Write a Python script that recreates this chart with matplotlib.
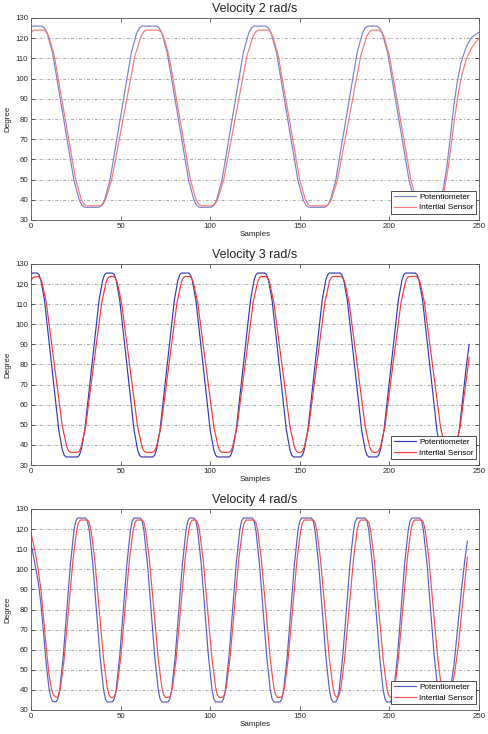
import matplotlib
matplotlib.use('Agg')
import matplotlib.pyplot as plt

plt.rcParams['font.family'] = ['Liberation Sans', 'DejaVu Sans']

titles = ['Velocity 2 rad/s', 'Velocity 3 rad/s', 'Velocity 4 rad/s']
series_labels = ['Potentiometer', 'Intertial Sensor']
x_ticks = [0, 50, 100, 150, 200, 250]
y_ticks = [30, 40, 50, 60, 70, 80, 90, 100, 110, 120, 130]

# ---------------- Velocity 2 rad/s ----------------
pot_v2_x = [0,
            6, 7.5, 9, 12, 18, 24, 27, 28.5, 30,
            38, 39.5, 41, 44, 50, 56, 59, 60.5, 62,
            70, 71.5, 73, 76, 82, 88, 91, 92.5, 94,
            100.5, 102, 103.5, 106.5, 112.5, 118.5, 121.5, 123, 124.5,
            131, 132.5, 134, 137, 143, 149, 152, 153.5, 155,
            164, 165.5, 167, 170, 176, 182, 185, 186.5, 188,
            193, 194.5, 196, 199, 205, 211, 214, 215.5, 217,
            226, 228, 230, 232, 234, 236, 238, 240, 243, 246, 250]
pot_v2_y = [126,
            126, 125.1, 122.6, 112.9, 81.2, 49.4, 39.7, 37.2, 36.3,
            36.3, 37.2, 39.7, 49.4, 81.2, 112.9, 122.6, 125.1, 126,
            126, 125.1, 122.6, 112.9, 81.2, 49.4, 39.7, 37.2, 36.3,
            36.3, 37.2, 39.7, 49.4, 81.2, 112.9, 122.6, 125.1, 126,
            126, 125.1, 122.6, 112.9, 81.2, 49.4, 39.7, 37.2, 36.3,
            36.3, 37.2, 39.7, 49.4, 81.2, 112.9, 122.6, 125.1, 126,
            126, 125.1, 122.6, 112.9, 81.2, 49.4, 39.7, 37.2, 36.3,
            36.3, 38.5, 45, 56, 71, 87, 99, 108, 116, 120.5, 123]
ins_v2_x = [0, 1.5,
            7, 8.5, 10, 13, 19, 25, 28, 29.5, 31,
            38.5, 40, 41.5, 45, 51.5, 58, 61.5, 63, 64.5,
            71, 72.5, 74, 77, 83, 89, 92, 93.5, 95,
            101, 102.5, 104, 107.5, 114, 120.5, 124, 125.5, 127,
            132, 133.5, 135, 138, 144, 150, 153, 154.5, 156,
            164.5, 166, 167.5, 171, 177.5, 184, 187.5, 189, 190.5,
            194, 195.5, 197, 200, 206, 212, 215, 216.5, 218,
            226.5, 228.5, 230.5, 232.5, 234.5, 236.5, 238.5, 240.5, 243, 246, 250]
ins_v2_y = [123, 124,
            124, 123.2, 120.7, 111.3, 80.5, 49.7, 40.3, 37.8, 37,
            37, 37.7, 39.8, 49.7, 80.5, 111.3, 121.2, 123.3, 124,
            124, 123.2, 120.7, 111.3, 80.5, 49.7, 40.3, 37.8, 37,
            37, 37.7, 39.8, 49.7, 80.5, 111.3, 121.2, 123.3, 124,
            124, 123.2, 120.7, 111.3, 80.5, 49.7, 40.3, 37.8, 37,
            37, 37.7, 39.8, 49.7, 80.5, 111.3, 121.2, 123.3, 124,
            124, 123.2, 120.7, 111.3, 80.5, 49.7, 40.3, 37.8, 37,
            37, 39, 44.5, 54, 67, 81, 93, 102, 110, 115.5, 120]

# ---------------- Velocity 3 rad/s ----------------
pot_v3_x = [0,
            3.5, 4.5, 5.5, 7.5, 11.5, 15.5, 17.5, 18.5, 19.5,
            26, 27, 28, 30, 34, 38, 40, 41, 42,
            45.5, 46.5, 47.5, 49.5, 53.5, 57.5, 59.5, 60.5, 61.5,
            68, 69, 70, 72, 76, 80, 82, 83, 84,
            88, 89, 90, 92, 96, 100, 102, 103, 104,
            110.5, 111.5, 112.5, 114.5, 118.5, 122.5, 124.5, 125.5, 126.5,
            130.5, 131.5, 132.5, 134.5, 138.5, 142.5, 144.5, 145.5, 146.5,
            150.5, 151.5, 152.5, 154.5, 158.5, 162.5, 164.5, 165.5, 166.5,
            172.5, 173.5, 174.5, 176.5, 180.5, 184.5, 186.5, 187.5, 188.5,
            193, 194, 195, 197, 201, 205, 207, 208, 209,
            214.5, 215.5, 216.5, 218.5, 222.5, 226.5, 228.5, 229.5, 230.5,
            235, 236, 237, 239, 243, 244.5]
pot_v3_y = [125.5,
            125.5, 124.6, 122.0, 112.1, 79.8, 47.4, 37.5, 34.9, 34,
            34, 34.9, 37.5, 47.4, 79.8, 112.1, 122.0, 124.6, 125.5,
            125.5, 124.6, 122.0, 112.1, 79.8, 47.4, 37.5, 34.9, 34,
            34, 34.9, 37.5, 47.4, 79.8, 112.1, 122.0, 124.6, 125.5,
            125.5, 124.6, 122.0, 112.1, 79.8, 47.4, 37.5, 34.9, 34,
            34, 34.9, 37.5, 47.4, 79.8, 112.1, 122.0, 124.6, 125.5,
            125.5, 124.6, 122.0, 112.1, 79.8, 47.4, 37.5, 34.9, 34,
            34, 34.9, 37.5, 47.4, 79.8, 112.1, 122.0, 124.6, 125.5,
            125.5, 124.6, 122.0, 112.1, 79.8, 47.4, 37.5, 34.9, 34,
            34, 34.9, 37.5, 47.4, 79.8, 112.1, 122.0, 124.6, 125.5,
            125.5, 124.6, 122.0, 112.1, 79.8, 47.4, 37.5, 34.9, 34,
            34, 34.9, 37.5, 47.4, 79.8, 90]
ins_v3_x = [0, 1.5,
            4, 5, 6, 8.5, 13, 17.5, 20, 21, 22,
            26, 27, 28, 30.5, 35, 39.5, 42, 43, 44,
            46, 47, 48, 50.5, 55, 59.5, 62, 63, 64,
            68, 69, 70, 72.5, 77, 81.5, 84, 85, 86,
            88.5, 89.5, 90.5, 93, 97.5, 102, 104.5, 105.5, 106.5,
            110.5, 111.5, 112.5, 115, 119.5, 124, 126.5, 127.5, 128.5,
            131, 132, 133, 135.5, 140, 144.5, 147, 148, 149,
            150.5, 151.5, 152.5, 155, 159.5, 164, 166.5, 167.5, 168.5,
            173, 174, 175, 177.5, 182, 186.5, 189, 190, 191,
            193, 194, 195, 197.5, 202, 206.5, 209, 210, 211,
            215, 216, 217, 219.5, 224, 228.5, 231, 232, 233,
            235, 236, 237, 239.5, 244, 244.5]
ins_v3_y = [122, 123.5,
            123.8, 123.1, 121.2, 111.0, 80.1, 49.1, 38.9, 37.0, 36.3,
            36.3, 37.0, 38.9, 49.1, 80.1, 111.0, 121.2, 123.1, 123.8,
            123.8, 123.1, 121.2, 111.0, 80.1, 49.1, 38.9, 37.0, 36.3,
            36.3, 37.0, 38.9, 49.1, 80.1, 111.0, 121.2, 123.1, 123.8,
            123.8, 123.1, 121.2, 111.0, 80.1, 49.1, 38.9, 37.0, 36.3,
            36.3, 37.0, 38.9, 49.1, 80.1, 111.0, 121.2, 123.1, 123.8,
            123.8, 123.1, 121.2, 111.0, 80.1, 49.1, 38.9, 37.0, 36.3,
            36.3, 37.0, 38.9, 49.1, 80.1, 111.0, 121.2, 123.1, 123.8,
            123.8, 123.1, 121.2, 111.0, 80.1, 49.1, 38.9, 37.0, 36.3,
            36.3, 37.0, 38.9, 49.1, 80.1, 111.0, 121.2, 123.1, 123.8,
            123.8, 123.1, 121.2, 111.0, 80.1, 49.1, 38.9, 37.0, 36.3,
            36.3, 37.0, 38.9, 49.1, 80.1, 83.5]

# ---------------- Velocity 4 rad/s ----------------
pot_v4_x = [0, 2, 4, 5.5, 7, 8.5, 10, 11, 12,
            14, 15, 16, 18, 20, 22, 24, 25, 26,
            30.5, 31.5, 32.5, 34.5, 36.5, 38.5, 40.5, 41.5, 42.5,
            45.5, 46.5, 47.5, 49.5, 51.5, 53.5, 55.5, 56.5, 57.5,
            61, 62, 63, 65, 67, 69, 71, 72, 73,
            76.5, 77.5, 78.5, 80.5, 82.5, 84.5, 86.5, 87.5, 88.5,
            91, 92, 93, 95, 97, 99, 101, 102, 103,
            106.5, 107.5, 108.5, 110.5, 112.5, 114.5, 116.5, 117.5, 118.5,
            123.5, 124.5, 125.5, 127.5, 129.5, 131.5, 133.5, 134.5, 135.5,
            139, 140, 141, 143, 145, 147, 149, 150, 151,
            156.5, 157.5, 158.5, 160.5, 162.5, 164.5, 166.5, 167.5, 168.5,
            170, 171, 172, 174, 176, 178, 180, 181, 182,
            186.5, 187.5, 188.5, 190.5, 192.5, 194.5, 196.5, 197.5, 198.5,
            200.5, 201.5, 202.5, 204.5, 206.5, 208.5, 210.5, 211.5, 212.5,
            217, 218, 219, 221, 223, 225, 227, 228, 229,
            232, 233, 234, 236, 238, 240, 242, 243.5]
pot_v4_y = [113, 103.5, 94, 83, 68.5, 53, 41, 36.5, 34.3,
            34.0, 35.6, 40.1, 56.9, 79.8, 102.6, 119.4, 124.0, 125.5,
            125.5, 124.0, 119.4, 102.6, 79.8, 56.9, 40.1, 35.6, 34.0,
            34.0, 35.6, 40.1, 56.9, 79.8, 102.6, 119.4, 124.0, 125.5,
            125.5, 124.0, 119.4, 102.6, 79.8, 56.9, 40.1, 35.6, 34.0,
            34.0, 35.6, 40.1, 56.9, 79.8, 102.6, 119.4, 124.0, 125.5,
            125.5, 124.0, 119.4, 102.6, 79.8, 56.9, 40.1, 35.6, 34.0,
            34.0, 35.6, 40.1, 56.9, 79.8, 102.6, 119.4, 124.0, 125.5,
            125.5, 124.0, 119.4, 102.6, 79.8, 56.9, 40.1, 35.6, 34.0,
            34.0, 35.6, 40.1, 56.9, 79.8, 102.6, 119.4, 124.0, 125.5,
            125.5, 124.0, 119.4, 102.6, 79.8, 56.9, 40.1, 35.6, 34.0,
            34.0, 35.6, 40.1, 56.9, 79.8, 102.6, 119.4, 124.0, 125.5,
            125.5, 124.0, 119.4, 102.6, 79.8, 56.9, 40.1, 35.6, 34.0,
            34.0, 35.6, 40.1, 56.9, 79.8, 102.6, 119.4, 124.0, 125.5,
            125.5, 124.0, 119.4, 102.6, 79.8, 56.9, 40.1, 35.6, 34.0,
            34.0, 35.6, 40.1, 52, 70, 88, 104, 114]
ins_v4_x = [0, 2, 4, 5.5, 7, 8.5, 10, 11.5, 12.5, 14,
            14.5, 15.5, 16.5, 18.5, 21, 23.5, 25.5, 26.5, 27.5,
            31.5, 32.5, 33.5, 35.5, 38, 40.5, 42.5, 43.5, 44.5,
            46, 47, 48, 50, 52.5, 55, 57, 58, 59,
            62, 63, 64, 66, 68.5, 71, 73, 74, 75,
            77, 78, 79, 81, 83.5, 86, 88, 89, 90,
            92, 93, 94, 96, 98.5, 101, 103, 104, 105,
            107, 108, 109, 111, 113.5, 116, 118, 119, 120,
            124.5, 125.5, 126.5, 128.5, 131, 133.5, 135.5, 136.5, 137.5,
            139.5, 140.5, 141.5, 143.5, 146, 148.5, 150.5, 151.5, 152.5,
            157.5, 158.5, 159.5, 161.5, 164, 166.5, 168.5, 169.5, 170.5,
            171, 172, 173, 175, 177.5, 180, 182, 183, 184,
            187.5, 188.5, 189.5, 191.5, 194, 196.5, 198.5, 199.5, 200.5,
            201, 202, 203, 205, 207.5, 210, 212, 213, 214,
            218, 219, 220, 222, 224.5, 227, 229, 230, 231,
            232.5, 233.5, 234.5, 236.5, 238.5, 240.5, 242.5, 243.5]
ins_v4_y = [118, 110, 100, 90, 76, 61, 48, 40, 37.5, 36.3,
            36.3, 37.6, 41.3, 55.4, 80.4, 105.4, 119.4, 123.2, 124.5,
            124.5, 123.2, 119.4, 105.4, 80.4, 55.4, 41.3, 37.6, 36.3,
            36.3, 37.6, 41.3, 55.4, 80.4, 105.4, 119.4, 123.2, 124.5,
            124.5, 123.2, 119.4, 105.4, 80.4, 55.4, 41.3, 37.6, 36.3,
            36.3, 37.6, 41.3, 55.4, 80.4, 105.4, 119.4, 123.2, 124.5,
            124.5, 123.2, 119.4, 105.4, 80.4, 55.4, 41.3, 37.6, 36.3,
            36.3, 37.6, 41.3, 55.4, 80.4, 105.4, 119.4, 123.2, 124.5,
            124.5, 123.2, 119.4, 105.4, 80.4, 55.4, 41.3, 37.6, 36.3,
            36.3, 37.6, 41.3, 55.4, 80.4, 105.4, 119.4, 123.2, 124.5,
            124.5, 123.2, 119.4, 105.4, 80.4, 55.4, 41.3, 37.6, 36.3,
            36.3, 37.6, 41.3, 55.4, 80.4, 105.4, 119.4, 123.2, 124.5,
            124.5, 123.2, 119.4, 105.4, 80.4, 55.4, 41.3, 37.6, 36.3,
            36.3, 37.6, 41.3, 55.4, 80.4, 105.4, 119.4, 123.2, 124.5,
            124.5, 123.2, 119.4, 105.4, 80.4, 55.4, 41.3, 37.6, 36.3,
            36.3, 37.4, 40, 49, 62, 80, 97, 106]

panels = [
    (pot_v2_x, pot_v2_y, ins_v2_x, ins_v2_y),
    (pot_v3_x, pot_v3_y, ins_v3_x, ins_v3_y),
    (pot_v4_x, pot_v4_y, ins_v4_x, ins_v4_y),
]
blue_colors = ['#7a80cc', '#3838b0', '#5a5ec0']
red_colors = ['#f27a7a', '#f03c3c', '#f05050']

W, H = 489, 734
fig = plt.figure(figsize=(W / 100, H / 100), dpi=100)
fig.patch.set_facecolor('white')

axes_px = [(31, 18, 479, 220), (31, 264, 479, 465), (31, 509, 479, 710)]

for i, (px, py, ix, iy) in enumerate(panels):
    l, t, r, b = axes_px[i]
    ax = fig.add_axes([l / W, 1 - b / H, (r - l) / W, (b - t) / H])
    ax.plot(px, py, color=blue_colors[i], lw=0.85, label=series_labels[0])
    ax.plot(ix, iy, color=red_colors[i], lw=0.85, label=series_labels[1])
    ax.set_xlim(0, 250)
    ax.set_ylim(30, 130)
    ax.set_xticks(x_ticks)
    ax.set_yticks(y_ticks)
    ax.yaxis.grid(True, color='#8a8a8a', linestyle=(0, (4.4, 2.8, 1.4, 2.8)), linewidth=0.5)
    ax.xaxis.grid(False)
    ax.tick_params(direction='in', top=True, right=True, length=3, width=0.5,
                   labelsize=5.7, pad=2, colors='#2a2a2a')
    for s in ax.spines.values():
        s.set_linewidth(0.6)
        s.set_color('#555555')
    ax.set_title(titles[i], fontsize=9, pad=4, color='#222222')
    ax.set_xlabel('Samples', fontsize=5.8, labelpad=1, color='#222222')
    ax.set_ylabel('Degree', fontsize=5.8, labelpad=3, color='#222222')
    leg = ax.legend(loc='lower right', bbox_to_anchor=(0.993, 0.03), borderaxespad=0,
                    fontsize=5.9, handlelength=2.7, handletextpad=0.4, borderpad=0.3,
                    labelspacing=0.35, fancybox=False, framealpha=1)
    leg.get_frame().set_edgecolor('#333333')
    leg.get_frame().set_linewidth(0.6)

fig.savefig('out.png', dpi=100, facecolor='white')
